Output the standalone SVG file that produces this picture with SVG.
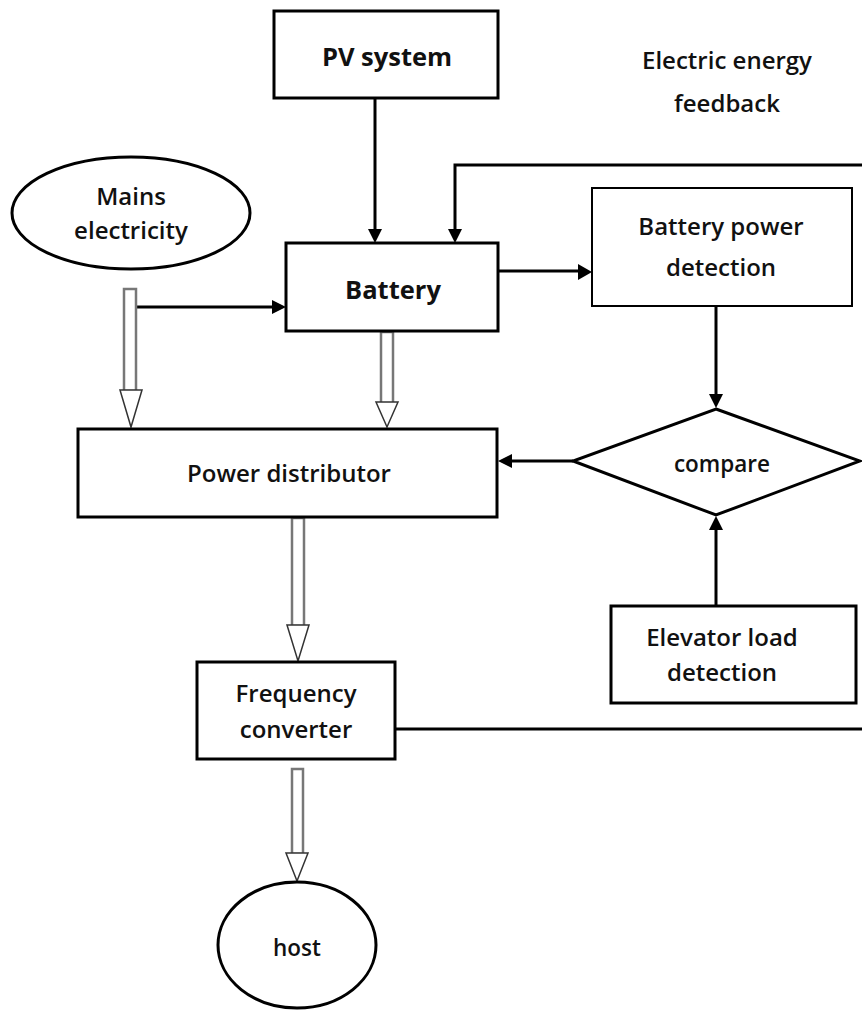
<svg xmlns="http://www.w3.org/2000/svg" width="862" height="1012" viewBox="0 0 862 1012">
<style>
.box{fill:#fff;stroke:#000;stroke-width:3}
.thin{fill:#fff;stroke:#000;stroke-width:2}
.t{font-family:"Open Sans","Liberation Sans",sans-serif;font-weight:600;font-size:24px;fill:#111;text-anchor:middle}
.m{font-size:22.5px}
.tb{font-family:"Open Sans","Liberation Sans",sans-serif;font-weight:700;font-size:25.5px;fill:#111;text-anchor:middle}
.ln{fill:none;stroke:#000;stroke-width:3}
.shaft{fill:#fff;stroke:#777;stroke-width:2.5}
.head{fill:#fff;stroke:#333;stroke-width:1.5}
.ah{fill:#000}
</style>
<rect width="862" height="1012" fill="#fff"/>

<g id="connectors">
<path class="ln" d="M375,98 V232"/>
<path class="ah" d="M368,229 L382,229 L375,243 Z"/>
<path class="ln" d="M862,165 H455 V232"/>
<path class="ah" d="M448,229 L462,229 L455,243 Z"/>
<path class="ln" d="M137,307 H274"/>
<path class="ah" d="M272,300 L286,307 L272,314 Z"/>
<path class="ln" d="M499,271 H580"/>
<path class="ah" d="M578,264 L592,272 L578,280 Z"/>
<path class="ln" d="M716,307 V396"/>
<path class="ah" d="M709,394 L723,394 L716,408 Z"/>
<path class="ln" d="M573,461 H510"/>
<path class="ah" d="M512,454 L498,461 L512,468 Z"/>
<path class="ln" d="M716,606 V528"/>
<path class="ah" d="M709,530 L723,530 L716,516 Z"/>
<path class="ln" d="M395,729 H862"/>
<rect class="shaft" x="124" y="289" width="12" height="102"/>
<path class="head" d="M120,390 L142,390 L131,427 Z"/>
<rect class="shaft" x="381" y="332" width="12" height="72"/>
<path class="head" d="M376,402 L398,402 L387,427 Z"/>
<rect class="shaft" x="292" y="518" width="12" height="108"/>
<path class="head" d="M287,625 L309,625 L298,661 Z"/>
<rect class="shaft" x="292" y="769" width="11" height="85"/>
<path class="head" d="M286,853 L308,853 L297,881 Z"/>
</g>

<g id="pv">
<rect class="box" x="274" y="11" width="224" height="87"/>
<text class="tb" x="387" y="66">PV system</text>
</g>
<g id="feedback-label">
<text class="t" x="727" y="69">Electric energy</text>
<text class="t" x="727" y="112">feedback</text>
</g>
<g id="mains">
<ellipse class="box" cx="131" cy="213" rx="119" ry="56"/>
<text class="t" x="131" y="205">Mains</text>
<text class="t" x="131" y="239">electricity</text>
</g>
<g id="battery">
<rect class="box" x="286" y="243" width="212" height="88"/>
<text class="tb" x="393" y="299">Battery</text>
</g>
<g id="bpd">
<rect class="thin" x="592" y="188" width="260" height="118"/>
<text class="t" x="721" y="235">Battery power</text>
<text class="t" x="721" y="276">detection</text>
</g>
<g id="distributor">
<rect class="box" x="78" y="429" width="419" height="88"/>
<text class="t" x="289" y="482">Power distributor</text>
</g>
<g id="compare">
<path class="box" d="M716,409 L860,461 L716,515 L573,461 Z"/>
<text class="t m" x="722" y="472">compare</text>
</g>
<g id="eld">
<rect class="box" x="611" y="606" width="245" height="97"/>
<text class="t" x="722" y="646">Elevator load</text>
<text class="t" x="722" y="681">detection</text>
</g>
<g id="fc">
<rect class="box" x="197" y="662" width="198" height="97"/>
<text class="t" x="296" y="702">Frequency</text>
<text class="t" x="296" y="738">converter</text>
</g>
<g id="host">
<ellipse class="box" cx="297" cy="945" rx="79" ry="63"/>
<text class="t m" x="297" y="956">host</text>
</g>
</svg>
